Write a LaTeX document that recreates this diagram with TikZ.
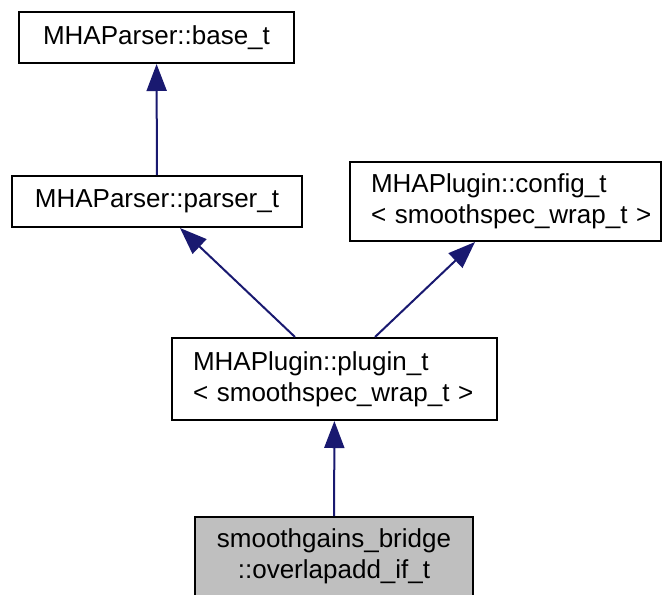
\documentclass[tikz,border=0pt]{standalone}
\usepackage{fontspec}
\setmainfont{Liberation Sans}
\usetikzlibrary{arrows.meta}
\definecolor{edgeblue}{RGB}{25,25,112}
\definecolor{boxgray}{RGB}{191,191,191}
\begin{document}
\begin{tikzpicture}[x=1pt,y=-1pt,
  cls/.style={draw=black, line width=2pt, inner sep=0pt, fill=white,
    font=\fontsize{26}{31}\selectfont},
  clsleft/.style={cls, align=left},
  inh/.style={draw=edgeblue, line width=2pt,
    -{Triangle[length=27pt,width=20pt]}, fill=edgeblue}]
\useasboundingbox (0,0) rectangle (663,594);
\node[cls, minimum width=275pt, minimum height=51pt] (base) at (156.5,37.5) {MHAParser::base\_t};
\node[cls, minimum width=290pt, minimum height=51pt] (parser) at (157,201.5) {MHAParser::parser\_t};
\node[clsleft, minimum width=311pt, minimum height=79pt, text width=269pt] (config) at (505.5,201.5) {\mbox{MHAPlugin::config\_t}\\\mbox{< smoothspec\_wrap\_t >}};
\node[clsleft, minimum width=325pt, minimum height=82pt, text width=283pt] (plugin) at (334.5,379) {\mbox{MHAPlugin::plugin\_t}\\\mbox{< smoothspec\_wrap\_t >}};
\node[cls, fill=boxgray, align=center, minimum width=278pt, minimum height=79pt] (bridge) at (334,556.5) {smoothgains\_bridge\\::overlapadd\_if\_t};
\draw[inh] (parser) -- (base);
\draw[inh] ([xshift=-39.5pt]plugin.north) -- ([xshift=23pt]parser.south);
\draw[inh] ([xshift=40.5pt]plugin.north) -- ([xshift=-30.5pt]config.south);
\draw[inh] (bridge) -- (plugin);
\end{tikzpicture}
\end{document}
